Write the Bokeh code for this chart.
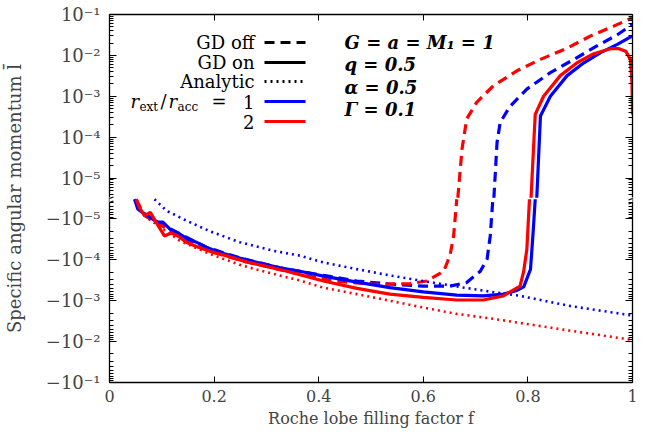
import math
from bokeh.plotting import figure
from bokeh.models import (Range1d, LogScale, LogAxis, LinearAxis, FixedTicker,
                          CustomJSTickFormatter, Label, Arrow)
from bokeh.embed import file_html
from bokeh.resources import INLINE

# ---------------- data ----------------
# GD on, r_ext/r_acc = 1 (blue solid)
F_ON_1 = [0.048, 0.054, 0.064, 0.077, 0.092, 0.102, 0.118, 0.131, 0.147, 0.166, 0.185, 0.211,
          0.249, 0.287, 0.326, 0.364, 0.409, 0.473, 0.536, 0.600, 0.664, 0.715, 0.753, 0.779,
          0.792, 0.805, 0.810, 0.814,
          0.817, 0.824, 0.843, 0.875, 0.907, 0.939, 0.971, 0.999]
L_ON_1 = [-3.3e-6, -5.7e-6, -7.1e-6, -9.1e-6, -1.2e-5, -1.2e-5, -1.9e-5, -2.2e-5, -3.0e-5, -3.7e-5,
          -4.9e-5, -6.6e-5, -9.0e-5, -1.2e-4, -1.57e-4, -1.9e-4, -2.5e-4, -3.5e-4, -4.8e-4, -6.1e-4,
          -7.3e-4, -7.6e-4, -6.9e-4, -5.6e-4, -4.6e-4, -1.7e-4, -2.1e-5, -3.3e-6,
          3.3e-6, 3.3e-4, 1.0e-3, 3.2e-3, 6.6e-3, 1.17e-2, 1.86e-2, 2.96e-2]

# GD on, r_ext/r_acc = 2 (red solid)
F_ON_2 = [0.051, 0.057, 0.067, 0.078, 0.089, 0.105, 0.118, 0.131, 0.147, 0.166, 0.192, 0.224,
          0.262, 0.300, 0.339, 0.364, 0.409, 0.473, 0.536, 0.600, 0.664, 0.715, 0.753, 0.785,
          0.792, 0.798, 0.803,
          0.806, 0.814, 0.830, 0.862, 0.894, 0.926, 0.958, 0.974, 0.987, 0.996, 0.999, 1.0]
L_ON_2 = [-3.3e-6, -5.2e-6, -8.3e-6, -6.9e-6, -1.2e-5, -2.6e-5, -2.2e-5, -2.6e-5, -3.7e-5, -4.7e-5,
          -6.2e-5, -8.0e-5, -1.12e-4, -1.45e-4, -1.9e-4, -2.3e-4, -3.3e-4, -5.0e-4, -6.9e-4, -8.3e-4,
          -9.6e-4, -9.6e-4, -7.6e-4, -4.4e-4, -1.9e-4, -5.5e-5, -3.3e-6,
          3.3e-6, 3.6e-4, 1.0e-3, 3.2e-3, 6.6e-3, 1.1e-2, 1.46e-2, 1.46e-2, 1.27e-2, 7.9e-3,
          2.1e-3, 3.6e-4]

# GD off, r_ext/r_acc = 1 (blue dashed)
F_OFF_1 = [0.048, 0.064, 0.092, 0.131, 0.185, 0.249, 0.326, 0.409, 0.473, 0.536, 0.600, 0.651,
           0.683, 0.709, 0.722, 0.728, 0.733,
           0.735, 0.741, 0.747, 0.766, 0.798, 0.843, 0.888, 0.932, 0.971, 1.0]
L_OFF_1 = [-3.3e-6, -7.1e-6, -1.2e-5, -2.2e-5, -4.9e-5, -9.0e-5, -1.57e-4, -2.4e-4, -3.3e-4,
           -3.9e-4, -4.4e-4, -4.4e-4, -3.6e-4, -1.9e-4, -9.5e-5, -2.6e-5, -3.3e-6,
           3.3e-6, 7.4e-5, 2.3e-4, 5.7e-4, 1.5e-3, 3.8e-3, 8.0e-3, 1.7e-2, 3.2e-2, 5.7e-2]

# GD off, r_ext/r_acc = 2 (red dashed)
F_OFF_2 = [0.051, 0.067, 0.089, 0.131, 0.192, 0.262, 0.339, 0.409, 0.441, 0.511, 0.575, 0.607,
           0.639, 0.651, 0.658, 0.664,
           0.666, 0.674, 0.683, 0.702, 0.734, 0.779, 0.824, 0.875, 0.920, 0.964, 1.0]
L_OFF_2 = [-3.3e-6, -8.3e-6, -1.2e-5, -2.6e-5, -6.2e-5, -1.12e-4, -1.9e-4, -3.0e-4, -3.4e-4,
           -4.0e-4, -3.8e-4, -3.3e-4, -1.9e-4, -7.9e-5, -2.6e-5, -3.3e-6,
           3.3e-6, 5.1e-5, 2.8e-4, 7.1e-4, 1.8e-3, 4.2e-3, 8.0e-3, 1.5e-2, 3.0e-2, 5.2e-2, 8.3e-2]

# Analytic, r_ext/r_acc = 1 (blue dotted)
F_AN_1 = [0.086, 0.109, 0.147, 0.192, 0.249, 0.313, 0.364, 0.409, 0.473, 0.536, 0.600, 0.664,
          0.728, 0.785, 0.881, 1.0]
L_AN_1 = [-3.3e-6, -6.3e-6, -1.1e-5, -2.0e-5, -3.7e-5, -6.0e-5, -7.9e-5, -1.16e-4, -1.69e-4,
          -2.4e-4, -3.3e-4, -4.5e-4, -6.0e-4, -7.6e-4, -1.35e-3, -2.3e-3]

# Analytic, r_ext/r_acc = 2 (red dotted)
F_AN_2 = [0.075, 0.134, 0.192, 0.255, 0.319, 0.364, 0.409, 0.473, 0.536, 0.600, 0.664, 0.728,
          0.785, 0.881, 1.0]
L_AN_2 = [-1.0e-5, -3.4e-5, -7.2e-5, -1.4e-4, -2.3e-4, -3.2e-4, -4.8e-4, -6.9e-4, -1.0e-3,
          -1.47e-3, -2.1e-3, -2.7e-3, -3.5e-3, -5.4e-3, -9.1e-3]

X_TICKS = [0, 0.2, 0.4, 0.6, 0.8, 1.0]
Y_EXPONENTS = [-1, -2, -3, -4, -5]          # decades labelled on both halves

BLUE = "#0000ff"
RED = "#ff0000"
FONT = "DejaVu Serif"

# broken symmetric-log axis: two log ranges sharing one frame
LO, HI = 1e-10, 1e-1
BREAK = 10 ** -5.5

p = figure(frame_width=523, frame_height=368,
           x_range=Range1d(0, 1), y_range=Range1d(LO, HI), y_axis_type="log",
           output_backend="svg", toolbar_location=None,
           min_border_left=104, min_border_right=12, min_border_top=14, min_border_bottom=44)
p.extra_y_ranges = {"neg": Range1d(HI, LO)}
p.extra_y_scales = {"neg": LogScale()}
p.outline_line_color = None
p.grid.visible = False
p.background_fill_color = "white"
p.border_fill_color = "white"

# ticks: upper half positive values, lower half mirrored negative values
major = [10.0 ** e for e in Y_EXPONENTS] + [LO * HI / 10.0 ** e for e in Y_EXPONENTS]
minor = []
for d in range(-7, -1):
    for m in range(2, 10):
        v = m * 10.0 ** d
        if BREAK < v < HI:
            minor.append(v)
            minor.append(LO * HI / v)
yticker = FixedTicker(ticks=major, minor_ticks=minor)
yfmt = CustomJSTickFormatter(args=dict(lo=LO, hi=HI, brk=BREAK), code="""
const sup = {"-":"\u207B","0":"\u2070","1":"\u00B9","2":"\u00B2","3":"\u00B3","4":"\u2074",
             "5":"\u2075","6":"\u2076","7":"\u2077","8":"\u2078","9":"\u2079"};
const s = (e) => String(e).split("").map(c => sup[c]).join("");
const e = Math.round(Math.log10(tick));
if (tick > brk) { return "10" + s(e); }
const en = Math.round(Math.log10(lo * hi)) - e;
return "\u221210" + s(en);
""")

yax = p.yaxis[0]
yax.ticker = yticker
yax.formatter = yfmt
yax.major_tick_in = 7
yax.major_tick_out = 0
yax.minor_tick_in = 4
yax.minor_tick_out = 0
yax.major_label_standoff = 9
yax.major_label_text_font = FONT
yax.major_label_text_font_size = "18px"
yax.axis_label = "Specific angular momentum l\u0304"
yax.axis_label_text_font = FONT
yax.axis_label_text_font_style = "normal"
yax.axis_label_text_font_size = "18px"
yax.axis_label_standoff = 18
yax.axis_line_width = 1.3

ryax = LogAxis(ticker=yticker, major_tick_in=7, major_tick_out=0, minor_tick_in=4,
               minor_tick_out=0, major_label_text_font_size="1px", major_label_text_color=None,
               major_label_standoff=0, axis_line_width=1.3)
p.add_layout(ryax, "right")

xfmt = CustomJSTickFormatter(code="return tick.toFixed(1).replace(/\\.0$/, '');")
xax = p.xaxis[0]
xax.ticker = FixedTicker(ticks=X_TICKS)
xax.formatter = xfmt
xax.major_tick_in = 6
xax.major_tick_out = 0
xax.minor_tick_in = 0
xax.minor_tick_out = 0
xax.major_label_standoff = 7
xax.major_label_text_font = FONT
xax.major_label_text_font_size = "16px"
xax.axis_label = "Roche lobe filling factor f"
xax.axis_label_text_font = FONT
xax.axis_label_text_font_style = "normal"
xax.axis_label_text_font_size = "16px"
xax.axis_label_standoff = 4
xax.axis_line_width = 1.3

tax = LinearAxis(ticker=FixedTicker(ticks=X_TICKS), major_tick_in=6, major_tick_out=0,
                 minor_tick_in=0, minor_tick_out=0, major_label_text_font_size="1px",
                 major_label_text_color=None, major_label_standoff=0, axis_line_width=1.3)
p.add_layout(tax, "above")


def draw(fs, ls, color, dash, width):
    px = [f for f, l in zip(fs, ls) if l > 0]
    py = [l for l in ls if l > 0]
    nx = [f for f, l in zip(fs, ls) if l < 0]
    ny = [-l for l in ls if l < 0]
    if px:
        p.line(px, py, line_color=color, line_width=width, line_dash=dash)
    if nx:
        p.line(nx, ny, line_color=color, line_width=width, line_dash=dash, y_range_name="neg")


draw(F_OFF_1, L_OFF_1, BLUE, "10 6", 3.2)
draw(F_OFF_2, L_OFF_2, RED, "10 6", 3.2)
draw(F_AN_1, L_AN_1, BLUE, "2 4", 2.6)
draw(F_AN_2, L_AN_2, RED, "2 4", 2.6)
draw(F_ON_1, L_ON_1, BLUE, "solid", 3.2)
draw(F_ON_2, L_ON_2, RED, "solid", 3.2)

# ---------------- legend (text left of sample lines) ----------------
def lab(x, y, text, size="18px", align="right", style="normal", baseline="middle"):
    p.add_layout(Label(x=x, y=y, x_units="screen", y_units="screen", text=text,
                       text_font=FONT, text_font_size=size, text_align=align,
                       text_baseline=baseline, text_font_style=style, text_color="black"))


def seg(x0, y0, x1, y1, color, width, dash="solid"):
    p.add_layout(Arrow(x_start=x0, y_start=y0, x_end=x1, y_end=y1,
                       start_units="screen", end_units="screen", start=None, end=None,
                       line_color=color, line_width=width, line_dash=dash))


rows = [340, 320, 301, 281, 261]
lab(145, rows[0], "GD off")
seg(155, rows[0], 196, rows[0], "black", 3.2, "10 6")
lab(145, rows[1], "GD on")
seg(155, rows[1], 196, rows[1], "black", 3.2)
lab(145, rows[2], "Analytic")
seg(155, rows[2], 196, rows[2], "black", 3, "2 4")
# r_ext / r_acc = 1
lab(21, rows[3], "r", align="left", style="italic")
lab(30, rows[3] - 5, "ext", size="12px", align="left")
lab(51, rows[3], "/", align="left")
lab(59, rows[3], "r", align="left", style="italic")
lab(68, rows[3] - 5, "acc", size="12px", align="left")
lab(102, rows[3], "=", align="left")
lab(145, rows[3], "1")
seg(155, rows[3], 196, rows[3], BLUE, 3.2)
lab(145, rows[4], "2")
seg(155, rows[4], 196, rows[4], RED, 3.2)

# parameters
params = ["G = a = M\u2081 = 1", "q = 0.5", "\u03b1 = 0.5", "\u0393 = 0.1"]
for txt, yy in zip(params, [340, 318, 295, 273]):
    lab(235, yy, txt, size="18px", align="left", style="bold italic")

# axis-break marks
for bx in (0, 523):
    seg(bx, 180.5, bx, 185.5, "white", 4)
    for dy in (-2.5, 1.5):
        seg(bx - 4, 181 + dy, bx + 4, 184 + dy, "black", 1.2)

open("out.html", "w").write(file_html(p, INLINE))
